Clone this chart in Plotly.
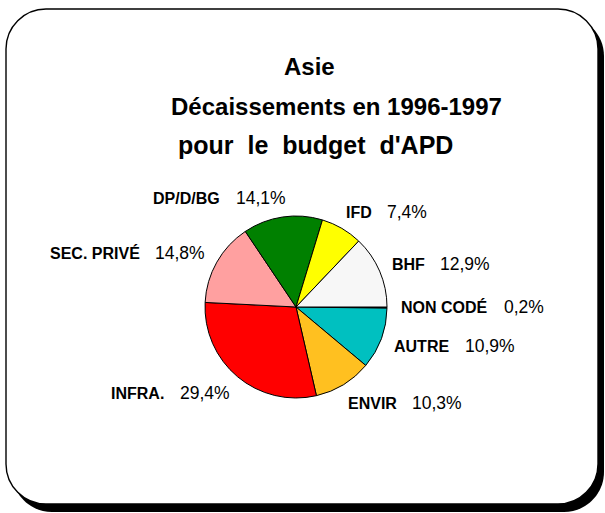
import plotly.graph_objects as go

# ---------------- data ----------------
categories = ["NON CODÉ", "AUTRE", "ENVIR", "INFRA.", "SEC. PRIVÉ", "DP/D/BG", "IFD", "BHF"]
values = [0.2, 10.9, 10.3, 29.4, 14.8, 14.1, 7.4, 12.9]
title_lines = ["Asie", "Décaissements en 1996-1997", "pour le budget d'APD"]

# ---------------- style ----------------
colors = ["#000000", "#00C0C0", "#FFC020", "#FF0000", "#FFA0A0", "#008000", "#FFFF00", "#F7F7F7"]
W, H = 605, 513
FONT = "Liberation Sans, Arial, sans-serif"

# label placement (pixels): name start x, percentage start x, centre y
name_x = [399, 392, 346, 109, 48, 151, 344, 390]
pct_x = [502, 463, 410, 178, 153, 234, 385, 438]
lab_y = [307, 346, 403, 393, 253, 198, 212, 264]

title_x = [309, 336, 315]
title_y = [67, 106, 145]
title_size = [24, 24, 25]


def px(x):
    return x / W


def py(y):
    return 1 - y / H


def rounded_rect_path(x0, y0, x1, y1, r):
    k = 0.5523 * r

    def P(x, y):
        return f"{px(x):.5f},{py(y):.5f}"
    d = f"M {P(x0 + r, y0)} L {P(x1 - r, y0)} "
    d += f"C {P(x1 - r + k, y0)} {P(x1, y0 + r - k)} {P(x1, y0 + r)} "
    d += f"L {P(x1, y1 - r)} "
    d += f"C {P(x1, y1 - r + k)} {P(x1 - r + k, y1)} {P(x1 - r, y1)} "
    d += f"L {P(x0 + r, y1)} "
    d += f"C {P(x0 + r - k, y1)} {P(x0, y1 - r + k)} {P(x0, y1 - r)} "
    d += f"L {P(x0, y0 + r)} "
    d += f"C {P(x0, y0 + r - k)} {P(x0 + r - k, y0)} {P(x0 + r, y0)} Z"
    return d


fig = go.Figure()
fig.add_trace(go.Pie(
    labels=categories,
    values=values,
    sort=False,
    direction="clockwise",
    rotation=90,
    marker=dict(colors=colors, line=dict(color="#000000", width=1)),
    textinfo="none",
    hoverinfo="label+percent",
    showlegend=False,
    domain=dict(x=[px(205), px(387)], y=[py(398), py(216)]),
))

shapes = [
    dict(type="path", xref="paper", yref="paper", layer="below",
         path=rounded_rect_path(12, 16, 604, 512, 40),
         fillcolor="#000000", line=dict(color="#000000", width=0)),
    dict(type="path", xref="paper", yref="paper", layer="below",
         path=rounded_rect_path(6, 9, 598, 504, 40),
         fillcolor="#FFFFFF", line=dict(color="#000000", width=1.4)),
]

annotations = []
for t, x, y, s in zip(title_lines, title_x, title_y, title_size):
    t = t.replace(" ", "&nbsp; ") if s > 24 else t
    annotations.append(dict(text=f"<b>{t}</b>", x=px(x), y=py(y), xref="paper", yref="paper",
                            xanchor="center", yanchor="middle", showarrow=False,
                            font=dict(family=FONT, size=s, color="#000000")))

for cat, v, nx, qx, y in zip(categories, values, name_x, pct_x, lab_y):
    pct = f"{v:.1f}".replace(".", ",") + "%"
    annotations.append(dict(text=f"<b>{cat}</b>", x=px(nx), y=py(y), xref="paper", yref="paper",
                            xanchor="left", yanchor="middle", showarrow=False,
                            font=dict(family=FONT, size=16, color="#000000")))
    annotations.append(dict(text=pct, x=px(qx), y=py(y), xref="paper", yref="paper",
                            xanchor="left", yanchor="middle", showarrow=False,
                            font=dict(family=FONT, size=17.5, color="#000000")))

fig.update_layout(
    width=W, height=H,
    margin=dict(l=0, r=0, t=0, b=0),
    paper_bgcolor="#FFFFFF",
    plot_bgcolor="#FFFFFF",
    shapes=shapes,
    annotations=annotations,
)

fig.write_html("out.html", config={"displayModeBar": False},
               post_script="document.body.style.margin='0';document.body.style.overflow='hidden';")
